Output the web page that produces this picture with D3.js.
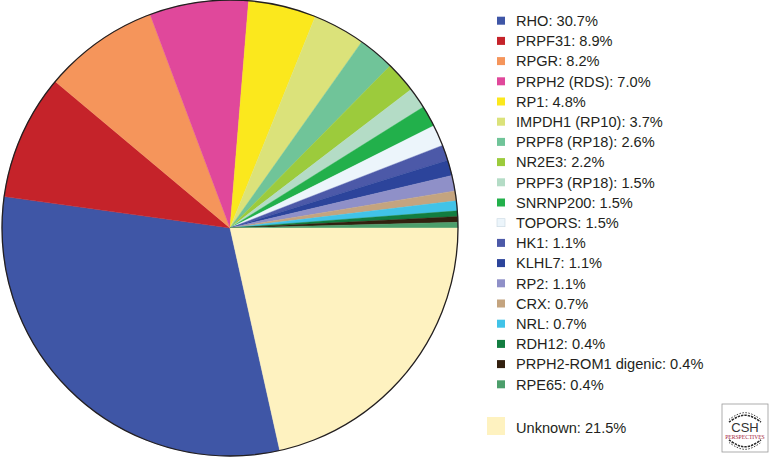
<!DOCTYPE html>
<html>
<head>
<meta charset="utf-8">
<script src="https://cdn.jsdelivr.net/npm/d3@7.9.0/dist/d3.min.js"></script>
<style>
  html, body { margin: 0; padding: 0; background: #fff; }
  svg { display: block; font-family: "Liberation Sans", Arial, Helvetica, sans-serif; }
</style>
</head>
<body>
<svg id="chart" width="778" height="459"></svg>
<script>
// gene names and share of cases (%), in the order they appear clockwise
const genes = ["RHO", "PRPF31", "RPGR", "PRPH2 (RDS)", "RP1", "IMPDH1 (RP10)", "PRPF8 (RP18)",
  "NR2E3", "PRPF3 (RP18)", "SNRNP200", "TOPORS", "HK1", "KLHL7", "RP2", "CRX", "NRL",
  "RDH12", "PRPH2-ROM1 digenic", "RPE65", "Unknown"];
const percents = [30.7, 8.9, 8.2, 7.0, 4.8, 3.7, 2.6, 2.2, 1.5, 1.5, 1.5, 1.1, 1.1, 1.1,
  0.7, 0.7, 0.4, 0.4, 0.4, 21.5];
const palette = ["#3f56a6", "#c5232a", "#f5955b", "#e0489b", "#fbe81d", "#dbe27a", "#70c499",
  "#9ccb3c", "#b4dcc6", "#22b04b", "#ecf5fb", "#4c59a8", "#2c449b", "#8f90c8", "#c4a47f",
  "#41c3e8", "#127d40", "#32200f", "#4c9e6b", "#fef2c0"];

const data = genes.map((g, i) => ({ gene: g, pct: percents[i] }));

const svg = d3.select("#chart");
const cx = 230, cy = 228, radius = 228;

const color = d3.scaleOrdinal().domain(genes).range(palette);

// Unknown sits last, so start RHO where Unknown (from 3 o'clock) ends
const unknownShare = percents[percents.length - 1] / 100;
const start = Math.PI / 2 + unknownShare * 2 * Math.PI;

const pie = d3.pie()
  .sort(null)
  .value(d => d.pct)
  .startAngle(start)
  .endAngle(start + 2 * Math.PI);

const arc = d3.arc().innerRadius(0).outerRadius(radius);

const g = svg.append("g").attr("transform", `translate(${cx},${cy})`);

g.selectAll("path.slice")
  .data(pie(data))
  .join("path")
  .attr("class", "slice")
  .attr("d", arc)
  .attr("fill", d => color(d.data.gene))
  .attr("stroke", d => color(d.data.gene))
  .attr("stroke-width", 0.4);

// outer rim
g.append("circle")
  .attr("r", radius)
  .attr("fill", "none")
  .attr("stroke", "#231f20")
  .attr("stroke-width", 1.3);

// legend
const legendX = 497, textX = 516, rowTop = 20.7, rowStep = 20.2;
const listed = data.slice(0, data.length - 1);

const legend = svg.append("g");
const rows = legend.selectAll("g.row")
  .data(listed)
  .join("g")
  .attr("class", "row")
  .attr("transform", (d, i) => `translate(0,${rowTop + i * rowStep})`);

rows.append("rect")
  .attr("x", legendX)
  .attr("y", -4)
  .attr("width", 8)
  .attr("height", 8)
  .attr("fill", d => color(d.gene))
  .attr("stroke", d => d.gene === "TOPORS" ? "#c9d8e2" : "none")
  .attr("stroke-width", 0.6);

rows.append("text")
  .attr("x", textX)
  .attr("y", 5.2)
  .attr("font-size", "14.6px")
  .attr("fill", "#231f20")
  .text(d => `${d.gene}: ${d.pct.toFixed(1)}%`);

const unk = data[data.length - 1];
legend.append("rect")
  .attr("x", 487)
  .attr("y", 417)
  .attr("width", 18)
  .attr("height", 18)
  .attr("fill", color(unk.gene));
legend.append("text")
  .attr("x", textX)
  .attr("y", 433.2)
  .attr("font-size", "14.6px")
  .attr("fill", "#231f20")
  .text(`${unk.gene}: ${unk.pct.toFixed(1)}%`);

// CSH Perspectives badge
const logo = svg.append("g").attr("transform", "translate(722,404)");
logo.append("rect")
  .attr("width", 46).attr("height", 48)
  .attr("fill", "#fff")
  .attr("stroke", "#9a9a9a")
  .attr("stroke-width", 0.8);

// simple helix strands above and below the lettering
const helix = (y0, up) => {
  const pts = d3.range(0, 9).map(k => {
    const t = k / 8;
    const x = 7 + t * 32;
    const y = y0 + (up ? -1 : 1) * Math.sin(t * Math.PI) * 7;
    return [x, y];
  });
  return d3.line().curve(d3.curveBasis)(pts);
};
[[18, true], [36, false]].forEach(([y0, up]) => {
  logo.append("path").attr("d", helix(y0, up))
    .attr("fill", "none").attr("stroke", "#2a2a2a").attr("stroke-width", 1.6)
    .attr("stroke-dasharray", "2.4 1");
  logo.append("path").attr("d", helix(y0 + (up ? -2.5 : 2.5), up))
    .attr("fill", "none").attr("stroke", "#2a2a2a").attr("stroke-width", 0.9)
    .attr("stroke-dasharray", "1.5 1.5");
});

logo.append("text")
  .attr("x", 23).attr("y", 28)
  .attr("text-anchor", "middle")
  .attr("font-size", "13px")
  .attr("font-family", "'Liberation Sans', sans-serif")
  .attr("fill", "#333")
  .text("CSH");
logo.append("text")
  .attr("x", 23).attr("y", 34.5)
  .attr("text-anchor", "middle")
  .attr("font-size", "5.6px")
  .attr("font-family", "'Liberation Serif', serif")
  .attr("fill", "#a4243b")
  .text("PERSPECTIVES");
</script>
</body>
</html>
